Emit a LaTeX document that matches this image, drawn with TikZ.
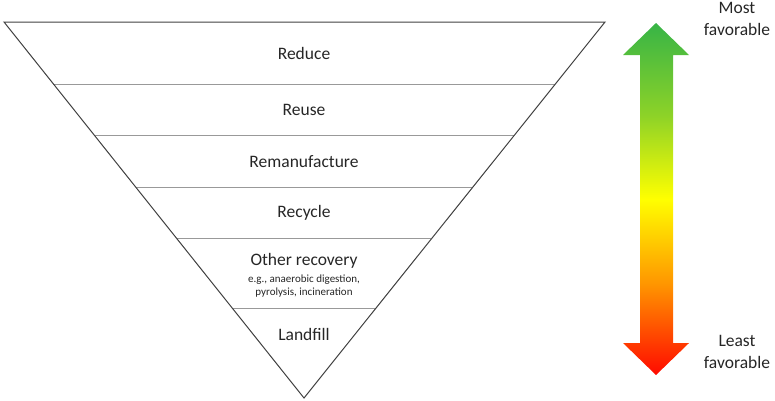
\documentclass[tikz,border=0pt]{standalone}
\usepackage{fontspec}
\setmainfont{Carlito}
\usetikzlibrary{calc}
\definecolor{lfred}{RGB}{255,10,0}
\definecolor{lforange}{RGB}{255,150,0}
\definecolor{lfyellow}{RGB}{255,255,0}
\definecolor{lflime}{RGB}{140,210,40}
\definecolor{lfgreen}{RGB}{55,180,70}
\pgfdeclareverticalshading{favor}{100bp}{color(0bp)=(lfred); color(25bp)=(lfred);
  color(38bp)=(lforange); color(50bp)=(lfyellow); color(62bp)=(lflime);
  color(75bp)=(lfgreen); color(100bp)=(lfgreen)}

\begin{document}
\begin{tikzpicture}[x=1pt, y=-1pt,
  tier/.style={font=\fontsize{17.5}{21}\selectfont, text=black!85},
  note/.style={font=\fontsize{11}{12.5}\selectfont, align=center, text=black!85},
  side/.style={font=\fontsize{17.5}{22}\selectfont, align=center, text=black!85}]
  \useasboundingbox (0,0) rectangle (775,400);
  \coordinate (tl) at (4,22);
  \coordinate (tr) at (605,22);
  \coordinate (apex) at (304,398);
  \foreach \t in {0.165, 0.303, 0.439, 0.577, 0.761}
    \draw[gray!80, line width=1pt] ($(tl)!\t!(apex)$) -- ($(tr)!\t!(apex)$);
  \draw[black!75, line width=1pt] (tl) -- (tr) -- (apex) -- cycle;
  \node[tier] (reduce) at (304,53) {Reduce};
  \node[tier] (reuse) at (304,110) {Reuse};
  \node[tier] (reman) at (304,162) {Remanufacture};
  \node[tier] (recycle) at (304,213) {Recycle};
  \node[tier] (other) at (304,261) {Other recovery};
  \node[note] (examples) at (304,286) {e.g., anaerobic digestion,\\pyrolysis, incineration};
  \node[tier] (landfill) at (304,334) {Landfill};
  \shade[shading=favor] (656,23) -- (689,55) -- (673,55) -- (673,343) -- (689,343)
    -- (656,375) -- (623,343) -- (640,343) -- (640,55) -- (623,55) -- cycle;
  \node[side] (most) at (737,19) {Most\\favorable};
  \node[side] (least) at (737,352) {Least\\favorable};
\end{tikzpicture}
\end{document}
